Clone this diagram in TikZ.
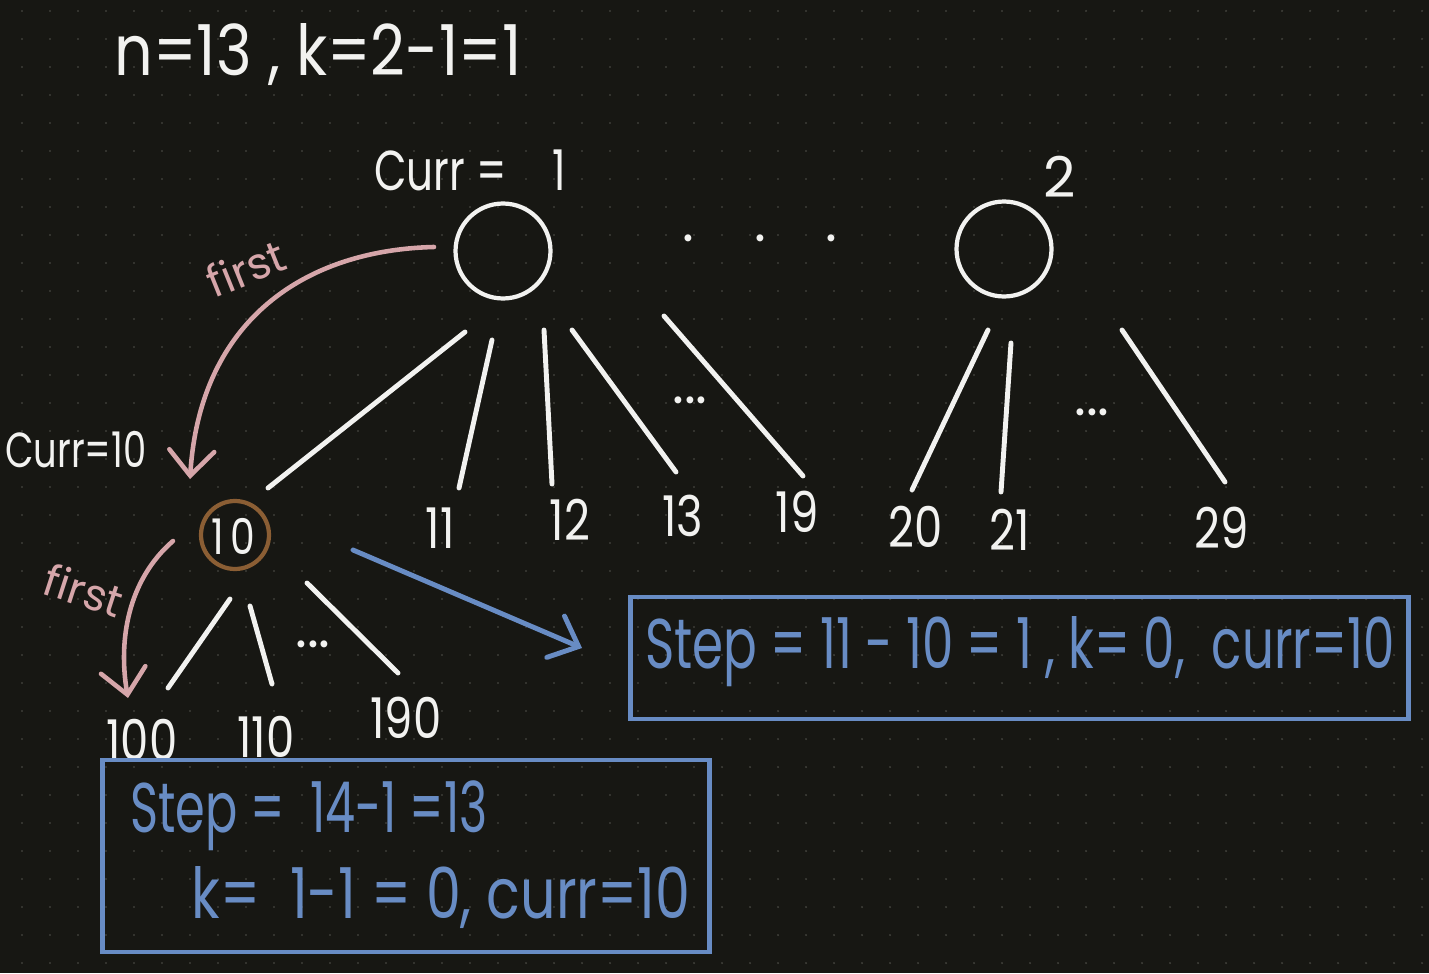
\documentclass[tikz,border=0pt]{standalone}
\usepackage{fontspec}
\setmainfont{Poppins}
\usepackage{graphicx}
\usetikzlibrary{arrows.meta,positioning,fit}
\definecolor{board}{RGB}{23,23,19}
\definecolor{griddot}{RGB}{62,62,56}
\definecolor{chalk}{RGB}{242,242,240}
\definecolor{rose}{RGB}{214,166,170}
\definecolor{bark}{RGB}{139,94,52}
\definecolor{slate}{RGB}{104,140,196}
\newcommand{\squeeze}[2]{\scalebox{#1}[1]{#2}}
\tikzset{
    ink/.style={text=chalk, inner sep=0pt, font=\fontsize{32}{36}\selectfont},
    bigink/.style={ink, font=\fontsize{40}{44}\selectfont},
    smallink/.style={ink, font=\fontsize{28}{32}\selectfont},
    pen/.style={draw=chalk, line width=2.8pt, line cap=round},
    vertex/.style={circle, draw=chalk, line width=2.4pt, minimum size=1.9cm, inner sep=0pt},
    note/.style={draw=slate, line width=2.8pt, inner sep=0pt},
    bluetext/.style={text=slate, inner sep=0pt, font=\fontsize{40}{44}\selectfont},
    rosetext/.style={text=rose, inner sep=0pt, font=\fontsize{25}{28}\selectfont},
    hint/.style={draw=rose, line width=2.6pt, line cap=round, ->}
}

\begin{document}
\begin{tikzpicture}[
  x=0.02cm, y=-0.02cm,
  >={Straight Barb[length=5mm, width=9mm, line cap=round]}
]
% Board
\fill[board] (0,0) rectangle (1429,973);
\foreach \i in {0,...,50}
  \foreach \j in {0,...,34}
    \fill[griddot] ({22+28*\i},{11+28*\j}) circle[radius=0.7pt];

% Header
\node[bigink] (title) at (318,55) {\squeeze{0.86}{n=13 , k=2-1=1}};

% Roots
\node[vertex] (one) at (503,251) {};
\node[vertex] (two) at (1004,249) {};
\node[ink] (currone) at (470,170) {\squeeze{0.75}{Curr =\ \ \ \ 1}};
\node[ink] (twolab) at (1060,177) {2};
\node[ink] (gap) at (760,238) {.\hspace{1.2cm}.\hspace{1.2cm}.};

% Subtree of 10
\node[circle, draw=bark, line width=2.4pt, minimum size=1.36cm, inner sep=0pt] (ten) at (235,535) {};
\node[smallink] (tenlab) at (233,536) {\squeeze{0.8}{1\,0}};
\node[smallink] (currten) at (76,450) {\squeeze{0.75}{Curr=10}};

% Leaves
\node[ink] (l11) at (440,528) {\squeeze{0.8}{11}};
\node[ink] (l12) at (570,520) {\squeeze{0.8}{12}};
\node[ink] (l13) at (683,516) {\squeeze{0.8}{13}};
\node[ink] (l19) at (797,512) {\squeeze{0.8}{19}};
\node[ink] (l20) at (916,527) {\squeeze{0.8}{20}};
\node[ink] (l21) at (1010,530) {\squeeze{0.8}{21}};
\node[ink] (l29) at (1222,528) {\squeeze{0.8}{29}};
\node[ink] (l100) at (142,740) {\squeeze{0.8}{100}};
\node[ink] (l110) at (266,737) {\squeeze{0.8}{110}};
\node[ink] (l190) at (406,718) {\squeeze{0.8}{190}};
\node[ink] (moreone) at (690,400) {...};
\node[ink] (moretwo) at (1092,412) {...};
\node[ink] (moreten) at (313,644) {...};

% Branches
\foreach \n/\ax/\ay/\bx/\by in {a/465/332/268/488, b/492/340/459/488, c/544/330/552/484,
    d/572/330/676/472, e/664/316/803/476, f/988/330/912/490, g/1011/343/1001/492,
    h/1122/330/1225/482, i/230/599/168/688, j/250/606/272/684, k/307/583/398/673}
{
  \coordinate (b\n) at (\ax,\ay);
  \coordinate (e\n) at (\bx,\by);
  \draw[pen] (b\n) -- (e\n);
}

% First-child hints
\coordinate (hintA) at (434,247);
\coordinate (hintB) at (190,479);
\draw[hint] (hintA) .. controls (305,250) and (200,320) .. (hintB);
\node[rosetext, rotate=22] (firstA) at (246,268) {first};
\coordinate (hintC) at (173,541);
\coordinate (hintD) at (128,698);
\draw[hint] (hintC) .. controls (128,580) and (118,640) .. (hintD);
\node[rosetext, rotate=-18] (firstB) at (84,590) {first};

% Notes
\node[note, minimum width=15.58cm, minimum height=2.44cm] (stepten) at (1019.5,658) {};
\node[bluetext] (steptenlab) at (1020,652) {\squeeze{0.71}{Step = 11 - 10 = 1 , k= 0,\ \ curr=10}};
\coordinate (jumpA) at (353,550);
\coordinate (jumpB) at (582,648);
\draw[draw=slate, line width=2.8pt, line cap=round, ->] (jumpA) -- (jumpB);

\node[note, minimum width=12.16cm, minimum height=3.84cm] (stepone) at (406,856) {};
\node[bluetext] (steponeA) at (309,816) {\squeeze{0.68}{Step =\ \ 14-1 =13}};
\node[bluetext] (steponeB) at (441,898) {\squeeze{0.79}{k=\ \ 1-1 = 0, curr=10}};
\end{tikzpicture}
\end{document}
